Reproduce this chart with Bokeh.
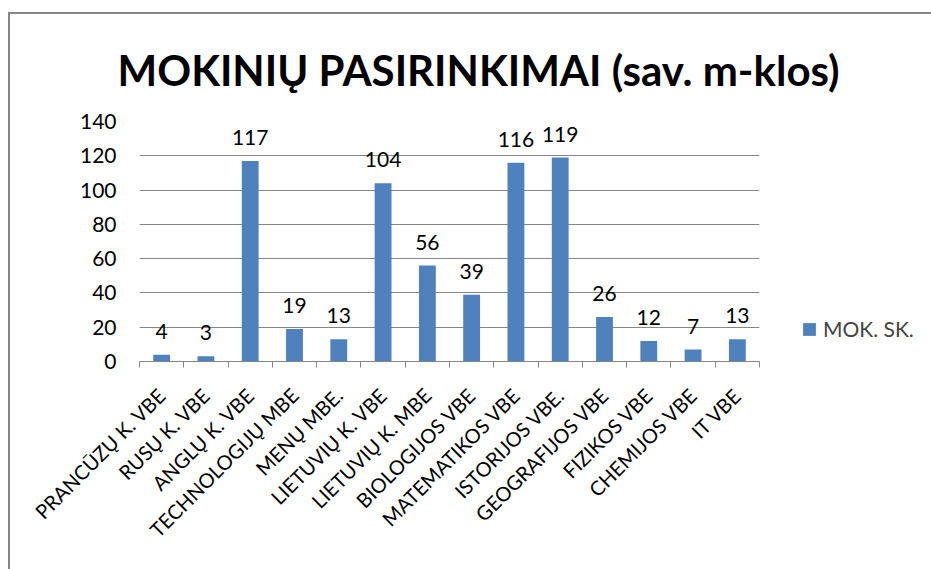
from bokeh.plotting import figure
from bokeh.layouts import column
from bokeh.models import (ColumnDataSource, FixedTicker, LabelSet, Legend, LegendItem,
                          Range1d, Title)
from bokeh.core.properties import value
from bokeh.embed import file_html
from bokeh.resources import INLINE

categories = ["PRANCŪZŲ K. VBE", "RUSŲ K. VBE", "ANGLŲ K. VBE", "TECHNOLOGIJŲ MBE",
              "MENŲ MBE.", "LIETUVIŲ K. VBE", "LIETUVIŲ K. MBE", "BIOLOGIJOS VBE",
              "MATEMATIKOS VBE", "ISTORIJOS VBE.", "GEOGRAFIJOS VBE", "FIZIKOS VBE",
              "CHEMIJOS VBE", "IT VBE"]
values = [4, 3, 117, 19, 13, 104, 56, 39, 116, 119, 26, 12, 7, 13]
y_ticks = [0, 20, 40, 60, 80, 100, 120, 140]
series_name = "MOK. SK."
title_text = "MOKINIŲ PASIRINKIMAI (sav. m-klos)"

FONT = "Lato"
BLUE = "#4F81BD"
GRAY = "#868686"

pos = [i + 0.5 for i in range(len(categories))]
src = ColumnDataSource(dict(x=pos, top=values, label=[str(v) for v in values]))

p = figure(frame_width=620, frame_height=240, output_backend="svg", toolbar_location=None,
           x_range=Range1d(0, len(categories)), y_range=Range1d(0, 140),
           min_border_left=129, min_border_right=172, min_border_top=107,
           min_border_bottom=208)
p.outline_line_color = None

p.title = Title(text=title_text, align="left", offset=-22, standoff=54,
                text_font=FONT, text_font_size="42px",
                text_font_style="bold", text_color="black")

r = p.vbar(x="x", top="top", width=0.38, source=src, fill_color=BLUE, line_color=None)

labels = LabelSet(x="x", y="top", text="label", source=src, text_align="center",
                  text_baseline="bottom", y_offset=16, text_font=value(FONT),
                  text_font_size=value("21px"), text_color="black")
p.add_layout(labels)

# x axis
p.xaxis.ticker = FixedTicker(ticks=pos, minor_ticks=list(range(len(categories) + 1)))
p.xaxis.major_label_overrides = {x: c for x, c in zip(pos, categories)}
p.xaxis.major_label_orientation = 0.785398
p.xaxis.major_tick_line_color = None
p.xaxis.minor_tick_line_color = GRAY
p.xaxis.minor_tick_out = 6
p.xaxis.minor_tick_in = 0
p.xaxis.axis_line_color = GRAY
p.xaxis.major_label_text_font = FONT
p.xaxis.major_label_text_font_size = "20px"
p.xaxis.major_label_text_color = "black"
p.xaxis.major_label_standoff = 24

# y axis
p.yaxis.ticker = FixedTicker(ticks=y_ticks)
p.yaxis.axis_line_color = None
p.yaxis.major_tick_line_color = None
p.yaxis.minor_tick_line_color = None
p.yaxis.major_label_text_font = FONT
p.yaxis.major_label_text_font_size = "21px"
p.yaxis.major_label_text_color = "black"
p.yaxis.major_label_standoff = 17

p.xgrid.grid_line_color = None
p.ygrid.ticker = FixedTicker(ticks=y_ticks[1:])
p.ygrid.grid_line_color = GRAY

legend = Legend(items=[LegendItem(label=series_name, renderers=[r])],
                location=(42, 20), border_line_color=None, background_fill_alpha=0,
                label_text_font=FONT, label_text_font_size="21px",
                glyph_width=16, glyph_height=16, padding=0, margin=0,
                label_standoff=6)
p.add_layout(legend, "right")

layout = column(p)
layout.styles = {"border-left": f"2px solid {GRAY}", "border-top": f"2px solid {GRAY}",
                 "margin-left": "8px", "margin-top": "12px"}

open("out.html", "w").write(file_html(layout, INLINE))
